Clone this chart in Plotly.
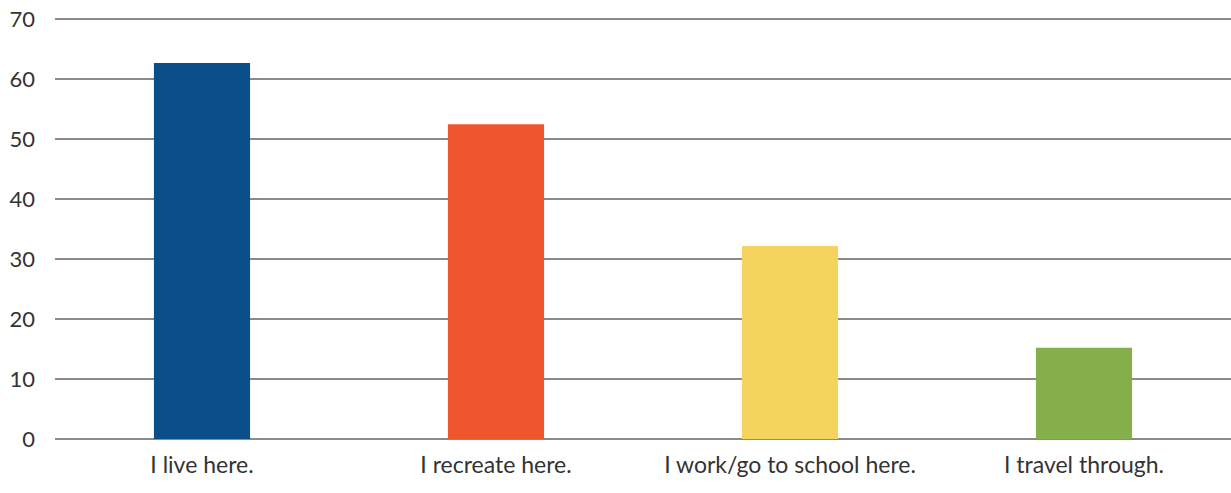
import plotly.graph_objects as go

# survey answers
categories = ["I live here.", "I recreate here.", "I work/go to school here.", "I travel through."]
values = [62.7, 52.5, 32.2, 15.2]
bar_colors = ["#0B4F8A", "#F0562D", "#F4D35E", "#85AF4A"]
y_ticks = [0, 10, 20, 30, 40, 50, 60, 70]

fig = go.Figure(go.Bar(x=categories, y=values, marker_color=bar_colors, marker_line_width=0))

fig.update_layout(
    width=1231, height=493,
    margin=dict(l=55, r=0, t=18, b=54),
    plot_bgcolor="white", paper_bgcolor="white",
    bargap=0.673,
    showlegend=False,
    font=dict(family="Lato", size=23, color="#333333"),
)
fig.update_xaxes(showgrid=False, showline=False, ticks="", tickfont=dict(size=23),
                 automargin=False, ticklabelstandoff=10)
fig.update_yaxes(range=[0, 70.2], tickvals=y_ticks, showgrid=True, gridcolor="#8a8a8a", gridwidth=1.5,
                 zeroline=True, zerolinecolor="#8a8a8a", zerolinewidth=1.5,
                 automargin=False, ticklabelstandoff=19, ticklabeloverflow="allow",
                 tickfont=dict(size=22))

# drop the default page margin so the figure fills the window
fig.write_html("out.html", config={"displayModeBar": False},
               post_script="document.body.style.margin='0';")
